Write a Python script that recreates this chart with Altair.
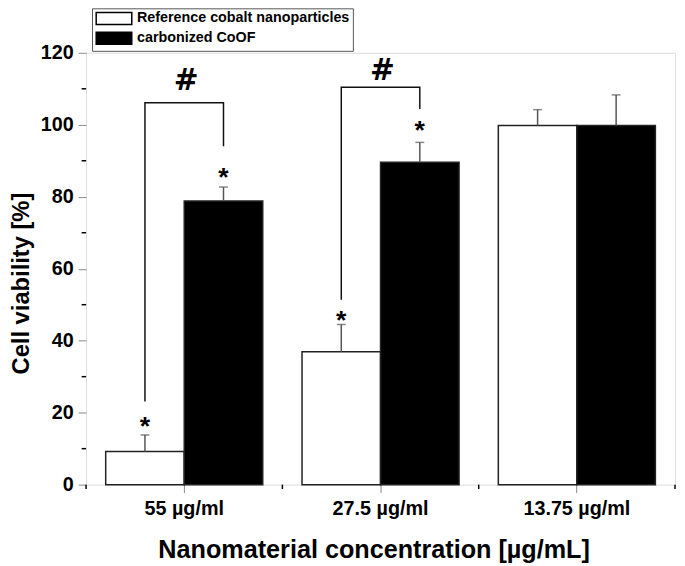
import altair as alt
import pandas as pd

# ---------------- data ----------------
categories = ["55 µg/ml", "27.5 µg/ml", "13.75 µg/ml"]
series_names = ["Reference cobalt nanoparticles", "carbonized CoOF"]
ref_values = [9.2, 36.9, 99.8]
ref_errors = [4.6, 7.6, 4.4]
coof_values = [78.8, 89.6, 99.8]
coof_errors = [3.9, 5.5, 8.5]

star_categories = ["55 µg/ml", "55 µg/ml", "27.5 µg/ml", "27.5 µg/ml"]
star_series = [series_names[0], series_names[1], series_names[0], series_names[1]]
star_y = [17.9, 87.1, 47.3, 100.3]

bracket_categories = ["55 µg/ml", "27.5 µg/ml"]
bracket_left_low = [23.1, 51.4]
bracket_right_low = [94.0, 104.4]
bracket_top = [106.1, 110.4]
hash_y = [112.4, 115.1]

y_major = [0, 20, 40, 60, 80, 100, 120]
y_minor = [10, 30, 50, 70, 90, 110]

FONT = "Liberation Sans"

# ---------------- tables ----------------
rows = []
for i, c in enumerate(categories):
    rows.append({"category": c, "series": series_names[0], "value": ref_values[i],
                 "top": ref_values[i] + ref_errors[i]})
    rows.append({"category": c, "series": series_names[1], "value": coof_values[i],
                 "top": coof_values[i] + coof_errors[i]})
bars_df = pd.DataFrame(rows)

stars_df = pd.DataFrame({"category": star_categories, "series": star_series, "value": star_y})

br_rows = []
for i, c in enumerate(bracket_categories):
    br_rows += [
        {"b": i, "o": 0, "category": c, "series": series_names[0], "value": bracket_left_low[i]},
        {"b": i, "o": 1, "category": c, "series": series_names[0], "value": bracket_top[i]},
        {"b": i, "o": 2, "category": c, "series": series_names[1], "value": bracket_top[i]},
        {"b": i, "o": 3, "category": c, "series": series_names[1], "value": bracket_right_low[i]},
    ]
br_df = pd.DataFrame(br_rows)
hash_df = pd.DataFrame({"category": bracket_categories, "value": hash_y})
minor_y_df = pd.DataFrame({"value": y_minor})
boundary_df = pd.DataFrame({"edge": list(range(len(categories) + 1))})

# ---------------- encodings ----------------
x_axis = alt.Axis(labelAngle=0, tickSize=8, labelPadding=6, labelFontSize=20,
                  labelFont=FONT, labelFontWeight="bold", labelColor="black",
                  titleFont=FONT, titleFontWeight="bold", titleColor="black",
                  titleFontSize=25.5, titleBaseline="alphabetic", titleY=74, titleX=291,
                  domain=False)
y_axis = alt.Axis(values=y_major, tickSize=8, labelPadding=5, labelFontSize=20,
                  labelFont=FONT, labelFontWeight="bold", labelColor="black",
                  titleFont=FONT, titleFontWeight="bold", titleColor="black",
                  titleFontSize=24, titleAngle=270, titleX=-65, titleY=233,
                  titleBaseline="middle", titleAlign="center", grid=False, domain=False)

x_scale = alt.Scale(domain=categories, paddingInner=0.2, paddingOuter=0.1)
xo_scale = alt.Scale(domain=series_names, paddingInner=0, paddingOuter=0)
y_scale = alt.Scale(domain=[0, 120], nice=False, zero=True)


def X():
    return alt.X("category:N", scale=x_scale, sort=categories, axis=x_axis,
                 title="Nanomaterial concentration [µg/mL]")


def Y(field="value"):
    return alt.Y(f"{field}:Q", scale=y_scale, axis=y_axis, title="Cell viability [%]")


XO = alt.XOffset("series:N", scale=xo_scale, sort=series_names)

legend_path = "M-3,-1H3V1H-3Z"

bars = alt.Chart(bars_df).mark_bar(stroke="#222", strokeWidth=1.5).encode(
    x=X(), xOffset=XO, y=Y(),
    color=alt.Color("series:N", scale=alt.Scale(domain=series_names, range=["white", "black"]),
                    legend=alt.Legend(title=None, orient="none", legendX=6, legendY=-45,
                                      symbolType=legend_path, symbolSize=144,
                                      symbolStrokeColor="black", symbolStrokeWidth=1.5,
                                      symbolOffset=12, labelOffset=16, labelLimit=0,
                                      labelFont=FONT, labelFontSize=14.5, labelFontWeight="bold",
                                      labelColor="black", strokeColor="#555", fillColor="white",
                                      padding=3, rowPadding=1)),
)

err = alt.Chart(bars_df).mark_rule(color="#555", strokeWidth=1.5).encode(
    x=X(), xOffset=XO, y=Y(), y2="top:Q")
caps = alt.Chart(bars_df).mark_tick(color="#555", thickness=1.5, size=9, orient="horizontal").encode(
    x=X(), xOffset=XO, y=Y("top"))

stars = alt.Chart(stars_df).mark_text(text="*", font=FONT, fontSize=27, fontWeight="bold",
                                      baseline="alphabetic", dy=15, color="black").encode(
    x=X(), xOffset=XO, y=Y())

brackets = alt.Chart(br_df).mark_line(color="#111", strokeWidth=1.5).encode(
    x=X(), xOffset=XO, y=Y(), order="o:Q", detail="b:N")

hashes = alt.Chart(hash_df).mark_text(text="#", font="DejaVu Sans", fontSize=30, fontWeight="bold",
                                      baseline="alphabetic", dy=10, dx=2, color="black").encode(
    x=X(), y=Y())

minor_y = alt.Chart(minor_y_df).mark_rule(color="black", strokeWidth=1.5).encode(
    y=Y(), x=alt.value(-4.5), x2=alt.value(0))

main = alt.layer(bars, err, caps, stars, brackets, hashes, minor_y)

minor_x = alt.Chart(boundary_df).mark_rule(color="black", strokeWidth=1.5).encode(
    x=alt.X("edge:Q", scale=alt.Scale(domain=[0, len(categories)], nice=False, zero=False), axis=None),
    y=alt.value(437), y2=alt.value(441.5))

chart = alt.layer(main, minor_x).resolve_scale(x="independent").properties(
    width=596, height=437,
    autosize=alt.AutoSizeParams(type="none"),
    padding={"left": 79, "top": 42, "right": 2, "bottom": 79},
).configure_view(stroke="black", strokeWidth=1.5).configure_axis(
    tickColor="black", tickWidth=1.5, domainColor="black", domainWidth=1.5,
).configure(background="white")

chart.save("out.html", embed_options={"renderer": "svg", "actions": False})
